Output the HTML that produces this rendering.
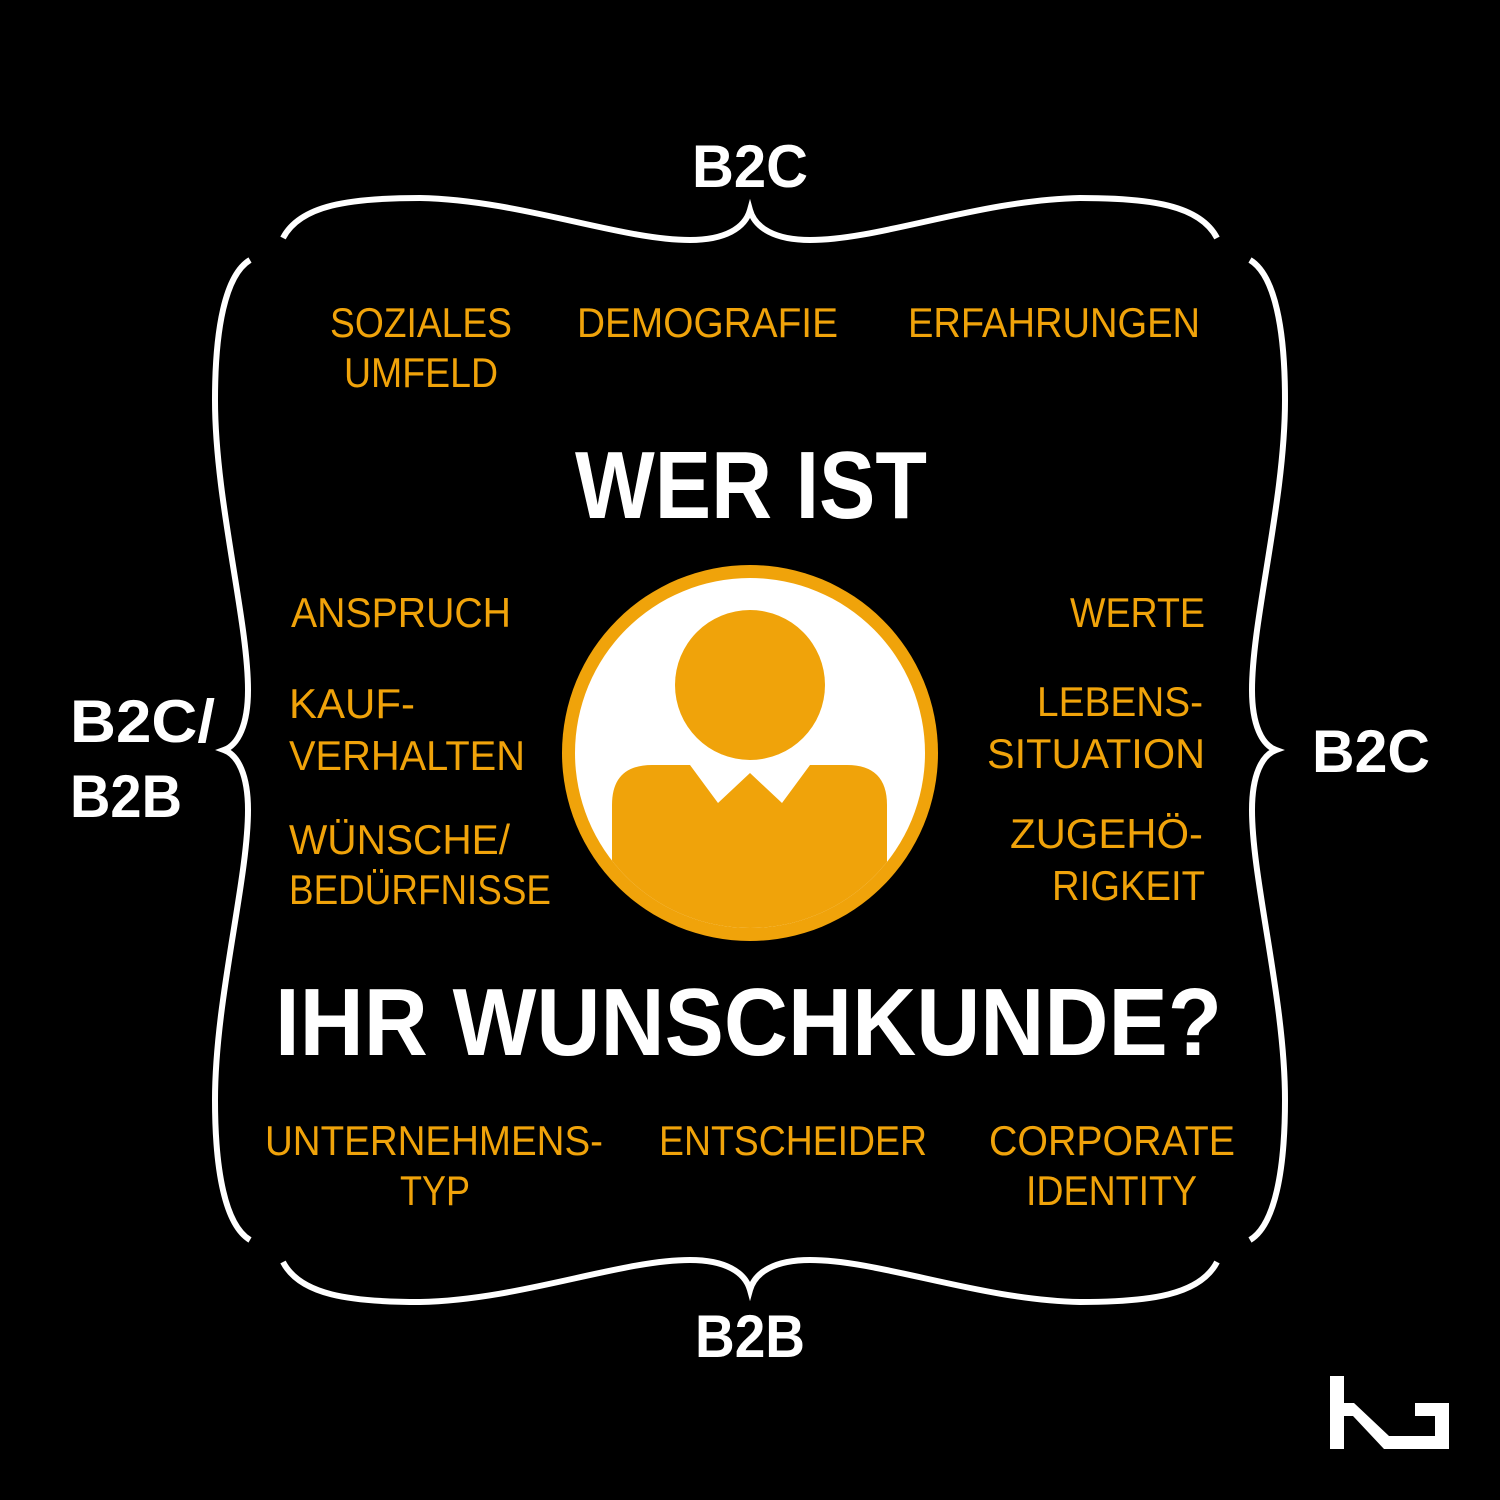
<!DOCTYPE html>
<html><head><meta charset="utf-8"><style>
html,body{margin:0;padding:0;background:#000;}
svg{display:block;}
</style></head><body>
<svg width="1500" height="1500" viewBox="0 0 1500 1500" xmlns="http://www.w3.org/2000/svg">
<rect width="1500" height="1500" fill="#000"/>
<defs>
<g id="hb">
<path d="M283,238 C300,205 350,198 420,198 C520,200 620,240 690,240 C725,240 745,228 750,210 C755,228 775,240 810,240 C880,240 980,200 1080,198 C1150,198 1200,205 1217,238" fill="none" stroke="#fff" stroke-width="6"/>
</g>
<g id="vb">
<path d="M250,260 C225,275 215,330 215,400 C215,500 248,620 248,690 C248,725 238,745 224,750 C238,755 248,775 248,810 C248,880 215,1000 215,1100 C215,1170 225,1225 250,1240" fill="none" stroke="#fff" stroke-width="6"/>
</g>
<clipPath id="cc"><circle cx="750" cy="753" r="175"/></clipPath>
</defs>
<use href="#hb"/>
<use href="#hb" transform="translate(0,1500) scale(1,-1)"/>
<use href="#vb"/>
<use href="#vb" transform="translate(1500,0) scale(-1,1)"/>

<circle cx="750" cy="753" r="188" fill="#F0A30A"/>
<circle cx="750" cy="753" r="175" fill="#fff"/>
<g clip-path="url(#cc)">
<circle cx="750" cy="685" r="75" fill="#F0A30A"/>
<path d="M612,940 L612,805 Q612,765 652,765 L690,765 L718,803 L750,773 L782,803 L810,765 L847,765 Q887,765 887,805 L887,940 Z" fill="#F0A30A"/>
</g>

<g font-family="Liberation Sans, sans-serif" font-weight="bold" fill="#fff">
<text x="692" y="187" font-size="60" textLength="116" lengthAdjust="spacingAndGlyphs">B2C</text>
<text x="695" y="1357" font-size="60" textLength="110" lengthAdjust="spacingAndGlyphs">B2B</text>
<text x="1312" y="772" font-size="60" textLength="118" lengthAdjust="spacingAndGlyphs">B2C</text>
<text x="70" y="742" font-size="60" textLength="145" lengthAdjust="spacingAndGlyphs">B2C/</text>
<text x="70" y="817" font-size="60" textLength="112" lengthAdjust="spacingAndGlyphs">B2B</text>
<text x="575" y="518" font-size="96" textLength="352" lengthAdjust="spacingAndGlyphs">WER IST</text>
<text x="275" y="1055" font-size="96" textLength="947" lengthAdjust="spacingAndGlyphs">IHR WUNSCHKUNDE?</text>
</g>

<g font-family="Liberation Sans, sans-serif" font-size="42" fill="#F0A30A" lengthAdjust="spacingAndGlyphs">
<text x="330" y="337" textLength="182" lengthAdjust="spacingAndGlyphs">SOZIALES</text>
<text x="344" y="387" textLength="154" lengthAdjust="spacingAndGlyphs">UMFELD</text>
<text x="577" y="337" textLength="261" lengthAdjust="spacingAndGlyphs">DEMOGRAFIE</text>
<text x="908" y="337" textLength="292" lengthAdjust="spacingAndGlyphs">ERFAHRUNGEN</text>
<text x="291" y="627" textLength="220" lengthAdjust="spacingAndGlyphs">ANSPRUCH</text>
<text x="289" y="718" textLength="126" lengthAdjust="spacingAndGlyphs">KAUF-</text>
<text x="289" y="770" textLength="236" lengthAdjust="spacingAndGlyphs">VERHALTEN</text>
<text x="289" y="854" textLength="221" lengthAdjust="spacingAndGlyphs">WÜNSCHE/</text>
<text x="289" y="904" textLength="262" lengthAdjust="spacingAndGlyphs">BEDÜRFNISSE</text>
<text x="1070" y="627" textLength="135" lengthAdjust="spacingAndGlyphs">WERTE</text>
<text x="1037" y="716" textLength="166" lengthAdjust="spacingAndGlyphs">LEBENS-</text>
<text x="987" y="768" textLength="218" lengthAdjust="spacingAndGlyphs">SITUATION</text>
<text x="1010" y="848" textLength="193" lengthAdjust="spacingAndGlyphs">ZUGEHÖ-</text>
<text x="1052" y="900" textLength="153" lengthAdjust="spacingAndGlyphs">RIGKEIT</text>
<text x="265" y="1155" textLength="338" lengthAdjust="spacingAndGlyphs">UNTERNEHMENS-</text>
<text x="400" y="1205" textLength="70" lengthAdjust="spacingAndGlyphs">TYP</text>
<text x="659" y="1155" textLength="268" lengthAdjust="spacingAndGlyphs">ENTSCHEIDER</text>
<text x="989" y="1155" textLength="246" lengthAdjust="spacingAndGlyphs">CORPORATE</text>
<text x="1026" y="1205" textLength="171" lengthAdjust="spacingAndGlyphs">IDENTITY</text>
</g>

<polygon points="1330,1376 1344,1376 1344,1403 1354,1403 1389,1436 1435,1436 1435,1416 1415,1416 1415,1403 1449,1403 1449,1449 1384,1449 1353,1416 1344,1416 1344,1449 1330,1449" fill="#fff"/>
</svg>
</body></html>
